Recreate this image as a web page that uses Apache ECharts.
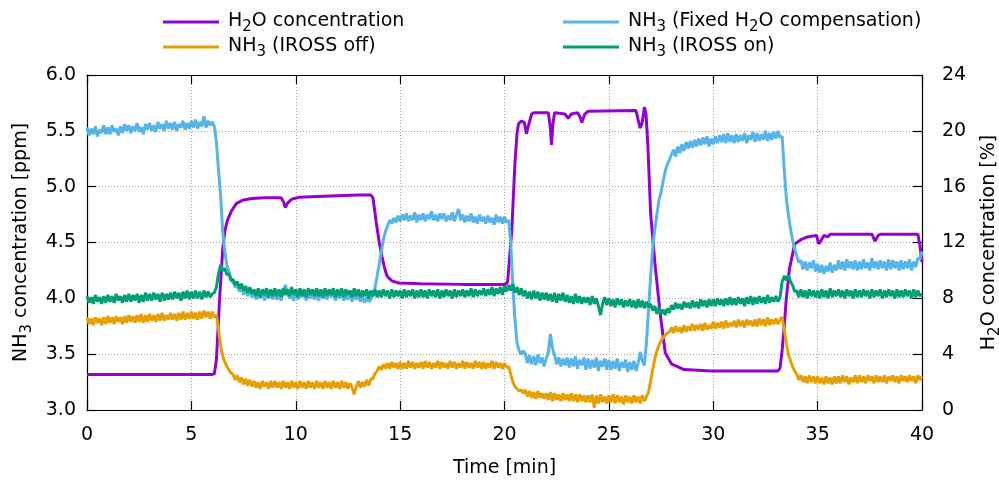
<!DOCTYPE html>
<html>
<head>
<meta charset="utf-8">
<script src="https://cdn.jsdelivr.net/npm/echarts@6/dist/echarts.min.js"></script>
<style>html,body{margin:0;padding:0;background:#fff;}#c{width:999px;height:482px;}</style>
</head>
<body>
<div id="c"></div>
<script>
// Sampling step of the NH3 traces (minutes)
const TIME_STEP = 0.1;

const seriesNames = ['H2O concentration', 'NH3 (Fixed H2O compensation)', 'NH3 (IROSS off)', 'NH3 (IROSS on)'];
const legendLabels = {
  'H2O concentration': '{f|H}{s|2}{n|O concentration}',
  'NH3 (Fixed H2O compensation)': '{f|NH}{s|3}{n| (Fixed H}{s|2}{n|O compensation)}',
  'NH3 (IROSS off)': '{f|NH}{s|3}{n| (IROSS off)}',
  'NH3 (IROSS on)': '{f|NH}{s|3}{n| (IROSS on)}'
};
const xTicks = [0, 5, 10, 15, 20, 25, 30, 35, 40];

// NH3 (Fixed H2O compensation), ppm, every 0.1 min from 0 to 40
const nh3Fixed = [
5.53,5.46,5.52,5.47,5.54,5.45,5.51,5.48,5.55,5.47,
5.53,5.47,5.55,5.49,5.52,5.46,5.54,5.48,5.56,5.50,
5.55,5.48,5.54,5.50,5.57,5.49,5.53,5.47,5.56,5.51,
5.57,5.50,5.55,5.49,5.58,5.52,5.56,5.50,5.59,5.52,
5.57,5.51,5.58,5.50,5.56,5.53,5.59,5.51,5.57,5.52,
5.59,5.53,5.60,5.52,5.58,5.54,5.63,5.53,5.59,5.55,
5.58,5.54,5.40,5.15,4.92,4.60,4.42,4.30,4.24,4.17,
4.14,4.10,4.12,4.06,4.10,4.03,4.08,4.02,4.07,4.01,
4.06,3.99,4.05,4.00,4.07,3.98,4.04,4.00,4.06,3.99,
4.05,3.99,4.04,3.98,4.06,4.12,4.05,4.00,4.04,3.98,
4.06,3.99,4.05,4.01,4.07,3.98,4.04,4.00,4.06,3.99,
4.05,3.98,4.06,4.00,4.04,3.99,4.07,4.01,4.05,3.98,
4.04,4.00,4.06,3.98,4.05,3.99,4.04,3.97,4.05,3.99,
4.03,3.97,4.02,3.96,4.01,3.97,3.99,4.03,4.10,4.20,
4.31,4.42,4.53,4.60,4.65,4.70,4.67,4.72,4.68,4.74,
4.69,4.75,4.70,4.76,4.69,4.74,4.70,4.77,4.68,4.75,
4.70,4.76,4.69,4.75,4.71,4.78,4.70,4.75,4.69,4.76,
4.71,4.76,4.69,4.74,4.70,4.77,4.69,4.75,4.80,4.70,
4.75,4.68,4.74,4.69,4.76,4.68,4.73,4.67,4.75,4.69,
4.73,4.67,4.74,4.68,4.72,4.66,4.75,4.68,4.73,4.67,
4.73,4.68,4.70,4.50,4.10,3.82,3.60,3.53,3.50,3.53,
3.50,3.42,3.49,3.41,3.48,3.40,3.50,3.42,3.47,3.39,
3.46,3.52,3.68,3.55,3.49,3.41,3.47,3.39,3.46,3.40,
3.47,3.38,3.46,3.39,3.48,3.37,3.45,3.40,3.47,3.36,
3.46,3.37,3.45,3.38,3.47,3.35,3.44,3.39,3.46,3.36,
3.45,3.36,3.44,3.37,3.46,3.35,3.43,3.38,3.45,3.34,
3.43,3.36,3.44,3.35,3.42,3.52,3.44,3.40,3.60,3.90,
4.20,4.45,4.62,4.75,4.88,4.95,5.05,5.14,5.20,5.24,
5.29,5.33,5.27,5.36,5.30,5.38,5.32,5.40,5.34,5.41,
5.35,5.42,5.36,5.43,5.37,5.44,5.38,5.45,5.36,5.43,
5.38,5.45,5.39,5.46,5.40,5.47,5.39,5.48,5.40,5.46,
5.39,5.47,5.40,5.46,5.41,5.48,5.39,5.46,5.42,5.49,
5.40,5.48,5.41,5.47,5.42,5.50,5.41,5.48,5.42,5.49,
5.43,5.50,5.44,5.45,5.15,4.90,4.75,4.62,4.52,4.44,
4.38,4.32,4.34,4.26,4.33,4.25,4.32,4.27,4.34,4.24,
4.31,4.23,4.30,4.22,4.29,4.24,4.32,4.23,4.30,4.25,
4.34,4.26,4.33,4.25,4.35,4.27,4.33,4.26,4.34,4.25,
4.33,4.26,4.35,4.27,4.32,4.25,4.36,4.27,4.33,4.26,
4.34,4.27,4.33,4.25,4.35,4.26,4.34,4.27,4.33,4.25,
4.34,4.26,4.33,4.27,4.35,4.25,4.33,4.28,4.36,4.35,
4.42
];

// NH3 (IROSS off), ppm
const nh3Off = [
3.83,3.77,3.82,3.76,3.83,3.78,3.82,3.76,3.83,3.77,
3.84,3.78,3.83,3.77,3.84,3.79,3.83,3.77,3.84,3.78,
3.85,3.79,3.84,3.78,3.85,3.79,3.86,3.78,3.85,3.79,
3.86,3.80,3.85,3.79,3.86,3.80,3.87,3.80,3.85,3.81,
3.87,3.81,3.86,3.80,3.87,3.81,3.88,3.81,3.87,3.82,
3.88,3.82,3.87,3.81,3.88,3.82,3.89,3.83,3.88,3.82,
3.88,3.83,3.85,3.72,3.58,3.48,3.43,3.39,3.36,3.33,
3.32,3.27,3.31,3.25,3.29,3.23,3.28,3.22,3.27,3.21,
3.26,3.20,3.25,3.19,3.26,3.21,3.25,3.19,3.26,3.20,
3.26,3.20,3.25,3.19,3.26,3.20,3.25,3.19,3.26,3.20,
3.25,3.19,3.26,3.20,3.25,3.19,3.26,3.20,3.25,3.19,
3.26,3.20,3.25,3.19,3.26,3.20,3.25,3.19,3.26,3.20,
3.25,3.19,3.26,3.20,3.25,3.19,3.24,3.20,3.14,3.21,
3.26,3.20,3.25,3.21,3.27,3.22,3.28,3.28,3.33,3.35,
3.39,3.36,3.41,3.37,3.42,3.37,3.43,3.38,3.42,3.37,
3.43,3.37,3.42,3.37,3.44,3.38,3.43,3.37,3.42,3.38,
3.43,3.37,3.44,3.38,3.43,3.37,3.42,3.38,3.44,3.37,
3.43,3.38,3.42,3.37,3.44,3.38,3.43,3.37,3.42,3.38,
3.44,3.37,3.43,3.38,3.42,3.37,3.44,3.38,3.43,3.37,
3.43,3.37,3.42,3.38,3.44,3.37,3.43,3.38,3.42,3.37,
3.42,3.38,3.39,3.32,3.25,3.21,3.19,3.17,3.18,3.15,
3.18,3.12,3.17,3.11,3.16,3.10,3.17,3.11,3.15,3.10,
3.15,3.09,3.16,3.08,3.15,3.09,3.14,3.08,3.15,3.09,
3.14,3.08,3.15,3.08,3.14,3.07,3.14,3.08,3.13,3.07,
3.13,3.07,3.14,3.02,3.13,3.06,3.14,3.07,3.12,3.06,
3.13,3.07,3.14,3.06,3.13,3.07,3.12,3.05,3.13,3.07,
3.12,3.06,3.13,3.07,3.12,3.06,3.13,3.08,3.12,3.16,
3.26,3.36,3.46,3.53,3.58,3.62,3.65,3.67,3.69,3.70,
3.74,3.69,3.75,3.70,3.74,3.69,3.76,3.70,3.75,3.71,
3.77,3.71,3.76,3.72,3.77,3.71,3.78,3.72,3.76,3.73,
3.79,3.73,3.78,3.74,3.79,3.73,3.80,3.74,3.78,3.75,
3.80,3.74,3.81,3.75,3.80,3.74,3.81,3.76,3.80,3.75,
3.81,3.75,3.82,3.76,3.81,3.75,3.83,3.76,3.81,3.77,
3.82,3.77,3.81,3.83,3.72,3.60,3.50,3.44,3.39,3.35,
3.32,3.27,3.31,3.25,3.30,3.24,3.31,3.25,3.30,3.24,
3.30,3.24,3.29,3.23,3.30,3.24,3.29,3.23,3.30,3.24,
3.30,3.24,3.31,3.25,3.30,3.23,3.29,3.25,3.31,3.24,
3.31,3.25,3.30,3.24,3.31,3.26,3.30,3.24,3.31,3.25,
3.30,3.25,3.31,3.24,3.30,3.26,3.31,3.25,3.30,3.24,
3.31,3.26,3.30,3.25,3.31,3.26,3.30,3.24,3.31,3.27,
3.30
];

// NH3 (IROSS on), ppm
const nh3On = [
4.02,3.96,4.01,3.95,4.03,3.97,4.01,3.95,4.02,3.96,
4.03,3.97,4.02,3.96,4.04,3.98,4.02,3.96,4.03,3.97,
4.04,3.97,4.03,3.98,4.04,3.96,4.03,3.97,4.05,3.98,
4.04,3.98,4.05,3.99,4.04,3.97,4.05,3.98,4.04,3.99,
4.05,3.99,4.06,4.00,4.05,3.98,4.06,4.00,4.07,3.99,
4.06,4.00,4.07,4.00,4.06,3.99,4.07,4.01,4.06,4.01,
4.04,4.05,4.10,4.22,4.30,4.25,4.27,4.21,4.22,4.16,
4.17,4.12,4.15,4.09,4.13,4.07,4.11,4.05,4.10,4.04,
4.08,4.02,4.09,4.01,4.08,4.03,4.09,4.01,4.08,4.02,
4.09,4.02,4.08,4.01,4.09,4.03,4.08,4.02,4.10,4.03,
4.08,4.01,4.09,4.02,4.08,4.01,4.09,4.03,4.08,4.02,
4.09,4.02,4.08,4.01,4.09,4.02,4.08,4.03,4.09,4.01,
4.08,4.02,4.09,4.01,4.08,4.03,4.07,4.01,4.09,4.02,
4.08,4.01,4.07,4.02,4.08,4.00,4.07,4.02,4.08,4.01,
4.07,4.01,4.08,4.02,4.07,4.00,4.08,4.01,4.07,4.02,
4.07,4.00,4.08,4.01,4.07,4.02,4.08,4.00,4.07,4.01,
4.08,4.01,4.07,4.00,4.08,4.02,4.07,4.01,4.08,4.00,
4.07,4.01,4.08,4.02,4.07,4.00,4.08,4.01,4.07,4.02,
4.08,4.01,4.07,4.02,4.09,4.01,4.08,4.02,4.07,4.03,
4.09,4.02,4.08,4.03,4.10,4.02,4.09,4.04,4.10,4.03,
4.11,4.06,4.12,4.07,4.13,4.05,4.10,4.03,4.09,4.02,
4.07,4.00,4.06,3.99,4.07,4.00,4.06,3.98,4.05,3.99,
4.05,3.98,4.04,3.97,4.05,3.96,4.04,3.98,4.05,3.97,
4.03,3.96,4.02,3.95,4.04,3.96,4.02,3.95,4.01,3.96,
4.01,3.94,4.02,3.95,4.00,3.93,3.85,3.95,4.01,3.94,
4.00,3.93,3.99,3.92,4.00,3.94,3.99,3.92,3.98,3.93,
3.99,3.92,3.98,3.91,3.99,3.92,3.98,3.91,3.97,3.92,
3.95,3.89,3.93,3.86,3.92,3.86,3.90,3.85,3.91,3.87,
3.94,3.90,3.96,3.91,3.95,3.90,3.97,3.92,3.96,3.91,
3.98,3.92,3.97,3.91,3.99,3.93,3.98,3.92,3.99,3.93,
3.99,3.93,4.00,3.94,3.99,3.93,4.00,3.94,4.01,3.94,
4.00,3.94,4.01,3.95,4.00,3.93,4.01,3.95,4.02,3.94,
4.01,3.95,4.02,3.96,4.01,3.95,4.03,3.96,4.01,3.97,
4.02,3.97,4.01,4.15,4.20,4.16,4.21,4.15,4.12,4.06,
4.07,4.01,4.08,4.01,4.07,4.00,4.08,4.02,4.07,4.01,
4.07,4.00,4.08,4.01,4.07,4.00,4.09,4.01,4.07,4.02,
4.08,4.01,4.07,4.00,4.08,4.02,4.07,4.00,4.08,4.01,
4.07,4.01,4.08,4.02,4.07,4.00,4.08,4.01,4.07,4.02,
4.08,4.00,4.07,4.01,4.08,4.02,4.07,4.00,4.08,4.01,
4.07,4.01,4.08,4.02,4.07,4.00,4.08,4.01,4.07,4.02,
4.04
];

// H2O concentration, % (right axis): times (min) and values
const h2oTime = [0,6.0,6.1,6.2,6.35,6.5,6.6,6.73,6.9,7.16,7.5,7.9,8.5,9.3,9.42,9.5,9.6,9.8,10.2,11,12,13,13.6,13.7,13.85,14.0,14.13,14.25,14.37,14.6,14.94,16,18,20.05,20.15,20.25,20.35,20.5,20.6,20.67,20.8,20.95,21.05,21.15,21.3,21.4,22.1,22.2,22.25,22.32,22.4,22.9,23.05,23.2,23.5,23.62,23.7,23.85,24.0,26.3,26.4,26.5,26.6,26.7,26.78,26.87,27.0,27.2,27.45,27.7,28.0,28.6,29.9,33.1,33.2,33.3,33.4,33.5,33.65,33.9,34.2,34.5,34.95,35.05,35.15,35.3,35.5,35.6,37.6,37.75,37.9,38,39.8,39.9,40];
const h2oValue = [2.55,2.55,2.6,3.6,7.9,11.5,12.8,13.6,14.2,14.8,15.05,15.15,15.2,15.2,14.9,14.5,14.8,15.1,15.25,15.3,15.35,15.4,15.4,15.2,13.5,12.0,11.0,10.2,9.6,9.25,9.1,9.05,9.0,9.0,9.2,11.0,12.9,17.7,19.8,20.5,20.7,20.6,19.8,20.4,21.2,21.3,21.3,20.2,19.0,20.5,21.3,21.2,20.9,21.2,21.3,21.0,20.6,21.2,21.4,21.45,20.8,20.2,20.6,21.7,21.2,18.9,14.1,10.6,7.0,4.1,3.3,2.9,2.8,2.8,3.0,4.3,6.0,8.0,10.1,11.9,12.2,12.4,12.5,11.9,12.1,12.5,12.4,12.6,12.6,12.1,12.5,12.6,12.6,11.8,10.6];

const colors = ['#9400d3', '#56b4e9', '#e69f00', '#009e73'];
const FONT = 'DejaVu Sans';
const FS = 19;

const richStyles = {
  n: {fontFamily: FONT, fontSize: FS, lineHeight: 20, verticalAlign: 'top', color: '#000'},
  f: {fontFamily: FONT, fontSize: FS, lineHeight: 20, verticalAlign: 'top', color: '#000', padding: [0, 0, 0, 4]},
  s: {fontFamily: FONT, fontSize: 15, lineHeight: 15, verticalAlign: 'top', padding: [8, 0, 0, 0], color: '#000'}
};
const axisRich = {n: richStyles.n, s: richStyles.s};

function sampled(vals) {
  return vals.map((v, i) => [Math.round(i * TIME_STEP * 10) / 10, v]);
}
const h2oData = h2oTime.map((t, i) => [t, h2oValue[i]]);

const chart = echarts.init(document.getElementById('c'), null, {renderer: 'canvas'});

const axisLineStyle = {color: '#000', width: 1.2};
const gridLine = {show: true, lineStyle: {color: '#a0a0a0', type: [1, 2], width: 1}};
const legendBase = {
  orient: 'vertical', itemGap: 2, itemWidth: 56, itemHeight: 3, icon: 'rect', padding: 0,
  formatter: name => legendLabels[name],
  textStyle: {fontFamily: FONT, fontSize: FS, color: '#000', rich: richStyles}
};

const option = {
  animation: false,
  backgroundColor: '#fff',
  textStyle: {fontFamily: FONT, color: '#000'},
  grid: {left: 87, right: 77, top: 75, bottom: 72, containLabel: false, outerBoundsMode: 'none'},
  legend: [
    Object.assign({left: 163, top: 12, data: [seriesNames[0], seriesNames[2]]}, legendBase),
    Object.assign({left: 563, top: 12, data: [seriesNames[1], seriesNames[3]]}, legendBase)
  ],
  xAxis: [
    {type: 'value', min: xTicks[0], max: xTicks[xTicks.length - 1], interval: 5, position: 'bottom',
     name: 'Time [min]', nameLocation: 'middle', nameGap: 49,
     nameTextStyle: {fontFamily: FONT, fontSize: FS, color: '#000'},
     axisLine: {show: true, onZero: false, lineStyle: axisLineStyle},
     axisTick: {show: true, inside: true, length: 9, lineStyle: axisLineStyle},
     axisLabel: {fontFamily: FONT, fontSize: FS, color: '#000', margin: 16},
     splitLine: gridLine},
    {type: 'value', min: xTicks[0], max: xTicks[xTicks.length - 1], interval: 5, position: 'top',
     axisLine: {show: true, onZero: false, lineStyle: axisLineStyle},
     axisTick: {show: true, inside: true, length: 9, lineStyle: axisLineStyle},
     axisLabel: {show: false}, splitLine: {show: false}}
  ],
  yAxis: [
    {type: 'value', min: 3, max: 6, interval: 0.5, position: 'left',
     name: '{n|NH}{s|3}{n| concentration [ppm]}', nameLocation: 'middle', nameGap: 52, nameRotate: 90,
     nameTextStyle: {fontFamily: FONT, fontSize: FS, color: '#000', rich: axisRich},
     axisLine: {show: true, onZero: false, lineStyle: axisLineStyle},
     axisTick: {show: true, inside: true, length: 9, lineStyle: axisLineStyle},
     axisLabel: {fontFamily: FONT, fontSize: FS, color: '#000', margin: 11, formatter: v => v.toFixed(1)},
     splitLine: gridLine},
    {type: 'value', min: 0, max: 24, interval: 4, position: 'right',
     name: '{n|H}{s|2}{n|O concentration [%]}', nameLocation: 'middle', nameGap: 58, nameRotate: 90,
     nameTextStyle: {fontFamily: FONT, fontSize: FS, color: '#000', rich: axisRich},
     axisLine: {show: true, onZero: false, lineStyle: axisLineStyle},
     axisTick: {show: true, inside: true, length: 9, lineStyle: axisLineStyle},
     axisLabel: {fontFamily: FONT, fontSize: FS, color: '#000', margin: 20},
     splitLine: {show: false}}
  ],
  series: [
    {name: seriesNames[0], type: 'line', yAxisIndex: 1, data: h2oData, showSymbol: false, symbol: 'none',
     lineStyle: {color: colors[0], width: 3}, itemStyle: {color: colors[0]}},
    {name: seriesNames[1], type: 'line', yAxisIndex: 0, data: sampled(nh3Fixed), showSymbol: false, symbol: 'none',
     lineStyle: {color: colors[1], width: 3}, itemStyle: {color: colors[1]}},
    {name: seriesNames[2], type: 'line', yAxisIndex: 0, data: sampled(nh3Off), showSymbol: false, symbol: 'none',
     lineStyle: {color: colors[2], width: 3}, itemStyle: {color: colors[2]}},
    {name: seriesNames[3], type: 'line', yAxisIndex: 0, data: sampled(nh3On), showSymbol: false, symbol: 'none',
     lineStyle: {color: colors[3], width: 3}, itemStyle: {color: colors[3]}}
  ]
};
chart.setOption(option);
</script>
</body>
</html>
